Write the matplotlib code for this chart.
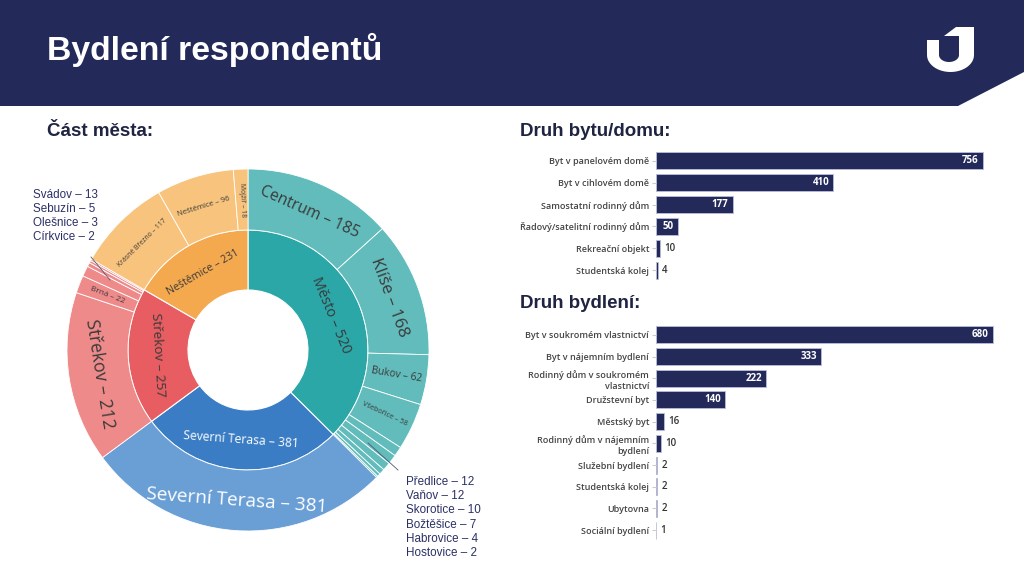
import numpy as np
import matplotlib
matplotlib.use('Agg')
import matplotlib.pyplot as plt
from matplotlib.patches import Wedge, Rectangle, Polygon

W, H = 1024, 576
NAVY = '#232a5a'
TXT = '#2b3066'

# --- data: sunburst (Část města) ---
districts = ['Město', 'Severní Terasa', 'Střekov', 'Neštěmice']
district_counts = [520, 381, 257, 231]
parts = [
    ['Centrum', 'Klíše', 'Bukov', 'Všebořice', 'Předlice', 'Vaňov',
     'Skorotice', 'Božtěšice', 'Habrovice', 'Hostovice'],
    ['Severní Terasa'],
    ['Střekov', 'Brná', 'Svádov', 'Sebuzín', 'Olešnice', 'Církvice'],
    ['Krásné Březno', 'Neštěmice', 'Mojžíř'],
]
part_counts = [
    [185, 168, 62, 58, 12, 12, 10, 7, 4, 2],
    [381],
    [212, 22, 13, 5, 3, 2],
    [117, 96, 18],
]

# --- data: Druh bytu/domu ---
flat_types = ['Byt v panelovém domě', 'Byt v cihlovém domě', 'Samostatní rodinný dům',
              'Řadový/satelitní rodinný dům', 'Rekreační objekt', 'Studentská kolej']
flat_counts = [756, 410, 177, 50, 10, 4]

# --- data: Druh bydlení ---
housing_types = ['Byt v soukromém vlastnictví', 'Byt v nájemním bydlení',
                 'Rodinný dům v soukromém\nvlastnictví', 'Družstevní byt', 'Městský byt',
                 'Rodinný dům v nájemním\nbydlení', 'Služební bydlení', 'Studentská kolej',
                 'Ubytovna', 'Sociální bydlení']
housing_counts = [680, 333, 222, 140, 16, 10, 2, 2, 2, 1]

inner_colors = ['#2ba7a7', '#3a7dc4', '#e75d61', '#f4a94f']
outer_colors = ['#62bcbc', '#6a9fd6', '#ef8a8b', '#f8c47d']
label_colors = ['#3a3a3a', 'white', '#3a3a3a', '#3a3a3a']

fig = plt.figure(figsize=(W / 100, H / 100), dpi=100)
bg = fig.add_axes([0, 0, 1, 1])
bg.set_xlim(0, W)
bg.set_ylim(0, H)
bg.axis('off')


def Y(y):
    return H - y


# header band
bg.add_patch(Rectangle((0, Y(106)), W, 106, fc=NAVY, ec='none'))
bg.add_patch(Polygon([(958, Y(106)), (W, Y(72)), (W, Y(106))], fc='white', ec='none'))
bg.text(47, Y(50), 'Bydlení respondentů', color='white', fontsize=24.3,
        fontweight='bold', family='Liberation Sans', va='center', ha='left')

# logo (stylised U)
t = np.linspace(np.pi, 2 * np.pi, 30)
outer = [(950.5 + 23.5 * np.cos(a), Y(55) + 17 * np.sin(a)) for a in t]
inner = [(949 + 10 * np.cos(a), Y(55) + 7 * np.sin(a)) for a in t[::-1]]
u_shape = [(927, Y(40))] + outer + [(974, Y(27)), (959, Y(27))] + inner + [(939, Y(40))]
bg.add_patch(Polygon(u_shape, fc='white', ec='none'))
bg.add_patch(Polygon([(944, Y(36)), (956, Y(27)), (974, Y(27)), (962, Y(36))], fc='white', ec='none'))

# section titles
for x, y, s in [(47, 131, 'Část města:'), (520, 131, 'Druh bytu/domu:'), (520, 304, 'Druh bydlení:')]:
    bg.text(x, Y(y), s, color='#1f2442', fontsize=13.5, fontweight='bold',
            family='Liberation Sans', va='center', ha='left')

# --- sunburst ---
CX, CY = 248, Y(350)
R0, R1, R2 = 60, 120, 181
total = sum(district_counts)


def ring_label(text, mid, r_in, r_out, span, color, is_inner):
    r = (r_in + r_out) / 2
    n = len(text)
    if span > 20:
        rot = mid - 90
        chord = 2 * r * np.sin(np.radians(min(span, 180) / 2))
        if is_inner:
            fs_px = min(14.5, 0.85 * chord / (0.48 * n))
        else:
            fs_px = min(20, 0.8 * chord / (0.48 * n))
    else:
        rot = mid
        arc = r * np.radians(span)
        fs_px = min(arc * 0.55, (r_out - r_in - 4) / (0.56 * n))
    rot = ((rot + 90) % 180) - 90
    x = CX + r * np.cos(np.radians(mid))
    y = CY + r * np.sin(np.radians(mid))
    bg.text(x, y, text, rotation=rot, rotation_mode='anchor', ha='center', va='center',
            fontsize=fs_px * 0.72, color=color, family='Open Sans')


small_groups = []
start = 90.0
for i, (name, cnt) in enumerate(zip(districts, district_counts)):
    span = cnt / total * 360
    bg.add_patch(Wedge((CX, CY), R1, start - span, start, width=R1 - R0,
                       fc=inner_colors[i], ec='white', lw=0.8))
    ring_label(f'{name} – {cnt}', start - span / 2, R0, R1, span, label_colors[i], True)
    s = start
    small = []
    for sub, sc in zip(parts[i], part_counts[i]):
        sspan = sc / total * 360
        bg.add_patch(Wedge((CX, CY), R2, s - sspan, s, width=R2 - R1,
                           fc=outer_colors[i], ec='white', lw=0.6))
        if sspan > 4:
            ring_label(f'{sub} – {sc}', s - sspan / 2, R1, R2, sspan, label_colors[i], False)
        else:
            small.append(f'{sub} – {sc}')
        s -= sspan
    small_groups.append(small)
    start -= span

# leader lists for tiny slices
for lines, (x0, y0, dy), line in [
        (small_groups[2], (33, 195, 14.0), ((91, 257), (110, 280))),
        (small_groups[0], (406, 482, 14.2), ((368, 443), (398, 470)))]:
    for k, s in enumerate(lines):
        bg.text(x0, Y(y0 + k * dy), s, color=TXT, fontsize=8.4,
                family='Liberation Sans', va='center', ha='left')
    bg.plot([line[0][0], line[1][0]], [Y(line[0][1]), Y(line[1][1])], color='#555a70', lw=0.6)


# --- bar charts ---
def bar_panel(rect, cats, vals, xmax):
    ax = fig.add_axes(rect)
    pos = np.arange(len(cats))
    ax.barh(pos, vals, height=0.78, color=NAVY, edgecolor='#b9bdd8', linewidth=0.6)
    ax.set_xlim(0, xmax)
    ax.set_ylim(len(cats) - 0.5, -0.5)
    ax.set_yticks(pos)
    ax.set_yticklabels(cats, fontsize=6.5, color='#444444', family='Open Sans',
                       fontweight='semibold', linespacing=1.3)
    ax.tick_params(axis='y', length=3, color='#cccccc', pad=2)
    ax.set_xticks([])
    for sp in ax.spines.values():
        sp.set_visible(False)
    for p, v in zip(pos, vals):
        if v > xmax * 0.04:
            ax.annotate(str(v), (v, p), xytext=(-3, 0), textcoords='offset points',
                        ha='right', va='center', color='white', fontsize=7,
                        fontweight='bold', family='Open Sans')
        else:
            ax.annotate(str(v), (v, p), xytext=(3, 0), textcoords='offset points',
                        ha='left', va='center', color='#333333', fontsize=7,
                        fontweight='semibold', family='Open Sans')
    return ax


bar_panel([656 / W, Y(281) / H, 340 / W, 131 / H], flat_types, flat_counts, 756 * 340 / 327)
bar_panel([656 / W, Y(541) / H, 340 / W, 217 / H], housing_types, housing_counts, 680 * 340 / 337)

fig.savefig('out.png', dpi=100)
